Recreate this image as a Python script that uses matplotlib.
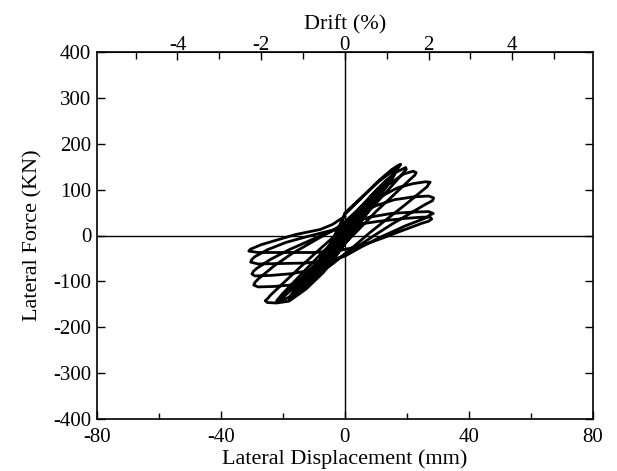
import matplotlib
matplotlib.use('Agg')
import matplotlib.pyplot as plt

plt.rcParams['font.family'] = ['Liberation Serif', 'DejaVu Serif']
plt.rcParams['axes.unicode_minus'] = False

# storey height used for the drift axis (mm per 1 % drift)
drift_mm = 13.5

# digitised hysteresis, cycle by cycle: displacement (mm) and force (kN)
c1_d = [0, 3, 5, 4, 1, -2, -5, -4, -1, 2]
c1_f = [0, 30, 42, 30, 5, -18, -40, -28, -2, 20]
c2_d = [5, 8, 6, 2, -2, -6, -8, -6, -2, 2]
c2_f = [50, 68, 52, 18, -20, -52, -64, -48, -10, 28]
c3_d = [6, 11, 9, 4, 0, -4, -8, -11, -9, -4, 0]
c3_f = [60, 92, 74, 28, -8, -40, -70, -90, -70, -22, 18]
c4_d = [5, 9, 12, 10, 5, 0, -5, -9, -12, -10, -5, 0]
c4_f = [52, 82, 100, 80, 35, -14, -52, -80, -98, -78, -30, 22]
c5_d = [5, 10, 13, 15, 13, 8, 2, -3, -8, -12, -15, -13, -8, -3, 0]
c5_f = [60, 98, 118, 128, 108, 58, 0, -42, -78, -104, -120, -102, -58, -10, 30]
c6_d = [4, 9, 13, 16, 14, 9, 3, -2, -7, -12, -16, -14, -10, -5, -2, 0]
c6_f = [55, 90, 115, 132, 112, 66, 8, -36, -72, -106, -126, -108, -72, -22, 18, 46]
c7_d = [6.6, 11, 15, 17, 15, 10, 4, -1, -6, -11, -16, -18,
        -16, -11, -6, -2, 0]
c7_f = [90, 118, 138, 146, 124, 78, 22, -26, -64, -100, -128, -138,
        -118, -78, -36, 10, 49]
c8_d = [6.6, 11, 15, 17, 18, 17.5, 16, 11, 5, 0, -5, -10, -15, -18, -21,
        -20.5, -19, -14, -8, -3, 2, 7, 12, 16, 19.6]
c8_f = [91, 120, 143, 152, 155, 150, 136, 94, 44, 2, -36, -76, -113, -134, -144,
        -140, -127, -93, -52, -12, 29, 72, 111, 136, 148]
c9_d = [19.8, 18, 13, 7, 1, -5, -11, -16, -20, -22,
        -21.5, -20, -15, -9, -3, 3, 9, 14, 19, 22, 23]
c9_f = [144, 130, 92, 48, 5, -34, -78, -112, -134, -142,
        -138, -126, -91, -49, -8, 33, 77, 111, 134, 140, 137]
c10_d = [22.5, 21, 16, 10, 4, 0, -3, -7, -12.6, -18, -22, -25, -25.7,
         -25, -24, -19, -13, -7, 0, 6, 12, 17, 22, 26, 27.5, 27]
c10_f = [131, 122, 90, 52, 10, -17, -46, -81, -117, -143, -147, -146, -142,
         -138, -130, -98, -60, -23, 18, 55, 86, 104, 113, 117, 116, 112]
c11_d = [26.5, 25, 20, 14, 8, 2, -4, -10, -16, -23, -28, -29.4,
         -29, -28, -23, -17, -10, -3, 4, 10, 16, 22, 27, 28.6]
c11_f = [106, 98, 70, 38, 6, -29, -62, -91, -107, -111, -112, -108,
         -102, -95, -67, -39, -12, 15, 45, 65, 78, 84, 86, 82]
c12_d = [28.3, 26, 21, 15, 9, 3, -3, -10, -17, -24, -29, -30,
         -29.5, -28.5, -24, -18, -11, -4, 2, 8, 15, 22, 27, 28.5]
c12_f = [76, 68, 48, 24, -2, -29, -54, -74, -83, -87, -88, -84,
         -78, -72, -52, -31, -10, 10, 28, 40, 48, 51, 52, 48]
c13_d = [27.5, 26, 19.5, 11, 5, 0, -6, -13, -21, -28, -30.4,
         -30, -29, -25, -19, -12, -5, 3, 11, 19, 25, 27.5, 28]
c13_f = [45, 38, 21, -5, -26, -45, -56, -60, -61, -62, -58,
         -52, -46, -31, -15, -2, 10, 23, 31, 37, 40, 40, 36]
c14_d = [27, 25, 19, 12, 5, -2, -10, -20, -28, -31,
         -30.5, -27, -23, -16, -8, -4, 0]
c14_f = [31, 27, 12, -6, -23, -33, -37, -37, -37, -34,
         -30, -20, -12, 2, 13, 24, 42]

disp = (c1_d + c2_d + c3_d + c4_d + c5_d + c6_d + c7_d + c8_d + c9_d
        + c10_d + c11_d + c12_d + c13_d + c14_d)
force = (c1_f + c2_f + c3_f + c4_f + c5_f + c6_f + c7_f + c8_f + c9_f
         + c10_f + c11_f + c12_f + c13_f + c14_f)

fig = plt.figure(figsize=(6.17, 4.71), dpi=100)
ax = fig.add_axes([0.157, 0.110, 0.804, 0.780])

ax.axhline(0, color='black', lw=1.0, zorder=1)
ax.axvline(0, color='black', lw=1.0, zorder=1)
ax.plot(disp, force, color='black', lw=2.0, solid_joinstyle='round', zorder=2)

ax.set_xlim(-80, 80)
ax.set_ylim(-400, 400)
ax.set_xticks([-80, -40, 0, 40, 80])
ax.set_xticks([-60, -20, 20, 60], minor=True)
ax.set_yticks(range(-400, 401, 100))
ax.tick_params(which='both', direction='in', labelsize=15, width=1, right=True)
ax.tick_params(which='major', length=6, pad=4)
ax.tick_params(axis='x', which='major', pad=6)
ax.tick_params(which='minor', length=4)
for s in ax.spines.values():
    s.set_linewidth(1.2)

ax.set_xlabel('Lateral Displacement (mm)', fontsize=16, labelpad=2)
ax.set_ylabel('Lateral Force (KN)', fontsize=16, labelpad=8)

top = ax.secondary_xaxis('top', functions=(lambda x: x / drift_mm, lambda x: x * drift_mm))
top.set_xticks([-4, -2, 0, 2, 4])
top.set_xticks([-5, -3, -1, 1, 3, 5], minor=True)
top.tick_params(which='both', direction='in', labelsize=15, width=1, pad=-2.5)
top.tick_params(which='major', length=6)
top.tick_params(which='minor', length=5)
top.set_xlabel('Drift (%)', fontsize=16, labelpad=5)

fig.savefig('out.png', dpi=100)
